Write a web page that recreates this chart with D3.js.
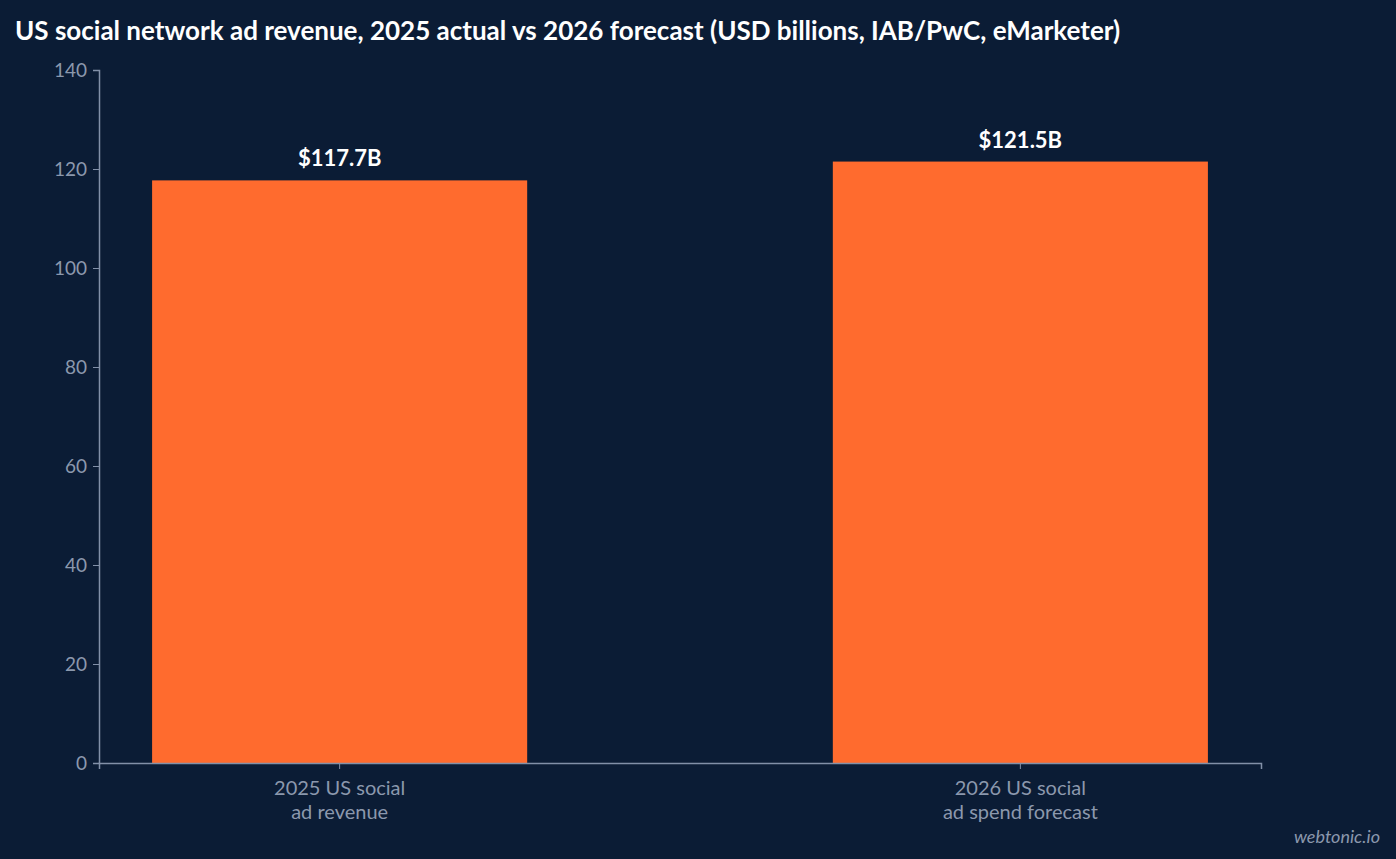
<!DOCTYPE html>
<html lang="en">
<head>
<meta charset="UTF-8">
<title>US social network ad revenue</title>
<script src="https://d3js.org/d3.v7.min.js"></script>
<style>
  html, body { margin: 0; background: #0b1c35; overflow: hidden; }
  svg { display: block; font-family: Lato, "Noto Sans", sans-serif; }
</style>
</head>
<body>
<svg id="chart" width="1396" height="859"></svg>
<script>
const categories = [["2025 US social", "ad revenue"], ["2026 US social", "ad spend forecast"]];
const values = [117.7, 121.5];
const valueLabels = ["$117.7B", "$121.5B"];
const yTicks = [0, 20, 40, 60, 80, 100, 120, 140];

const svg = d3.select("#chart");
const margin = { left: 99, right: 135, top: 70, bottom: 96 };
const W = 1396, H = 859;

const x = d3.scaleBand()
    .domain(d3.range(values.length))
    .range([margin.left, W - margin.right])
    .paddingInner(0.449)
    .paddingOuter(0.078);
const y = d3.scaleLinear().domain([0, 140]).range([H - margin.bottom, margin.top]);

svg.append("text")
    .attr("x", 15).attr("y", 40)
    .attr("fill", "#ffffff").attr("font-size", 26).attr("font-weight", 700)
    .text("US social network ad revenue, 2025 actual vs 2026 forecast (USD billions, IAB/PwC, eMarketer)");

// bars
svg.selectAll("rect.bar").data(values).enter().append("rect")
    .attr("x", (d, i) => x(i))
    .attr("y", d => y(d))
    .attr("width", x.bandwidth())
    .attr("height", d => y(0) - y(d))
    .attr("fill", "#ff6b2e");

svg.selectAll("text.val").data(values).enter().append("text")
    .attr("x", (d, i) => x(i) + x.bandwidth() / 2)
    .attr("y", d => y(d) - 14)
    .attr("text-anchor", "middle")
    .attr("fill", "#ffffff").attr("font-size", 22).attr("font-weight", 700)
    .text((d, i) => valueLabels[i]);

// y axis
const yAxis = svg.append("g")
    .attr("transform", `translate(${margin.left},0)`)
    .call(d3.axisLeft(y).tickValues(yTicks).tickSize(6).tickPadding(6));
// x axis
const xAxis = svg.append("g")
    .attr("transform", `translate(0,${y(0)})`)
    .call(d3.axisBottom(x).tickSize(6).tickFormat(""));

[yAxis, xAxis].forEach(g => {
    g.select(".domain").attr("stroke", "#8290a8").attr("stroke-width", 1.5);
    g.selectAll(".tick line").attr("stroke", "#8290a8");
});
yAxis.selectAll(".tick text")
    .attr("fill", "#8b98ad").attr("font-size", 19)
    .style("font-family", "Lato, sans-serif");

xAxis.selectAll(".tick").each(function (d) {
    const t = d3.select(this).append("text")
        .attr("fill", "#8b98ad").attr("font-size", 20)
        .attr("text-anchor", "middle")
        .style("font-family", "Lato, sans-serif");
    categories[d].forEach((line, k) => {
        t.append("tspan").attr("x", 0).attr("y", 32 + k * 24).text(line);
    });
});

svg.append("text")
    .attr("x", W - 16).attr("y", H - 16)
    .attr("text-anchor", "end")
    .attr("fill", "#8b98ad").attr("font-size", 18).attr("font-style", "italic")
    .text("webtonic.io");
</script>
</body>
</html>
